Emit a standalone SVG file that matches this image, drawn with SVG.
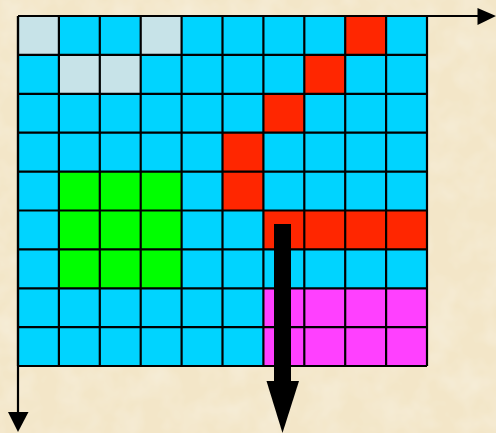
<svg xmlns="http://www.w3.org/2000/svg" width="496" height="433" viewBox="0 0 496 433">
<defs>
<style>
.c{fill:#00D4FF}.l{fill:#C7E3E8}.r{fill:#FF2600}.g{fill:#00FF00}.m{fill:#FF40FF}
.grid{stroke:#000;stroke-width:2.2;fill:none}
.ax{stroke:#000;stroke-width:2.2;fill:none}
</style>
<filter id="tex" x="0" y="0" width="100%" height="100%">
<feTurbulence type="fractalNoise" baseFrequency="0.035" numOctaves="3" seed="4" result="n"/>
<feColorMatrix in="n" type="matrix" values="0 0 0 0 0.93  0 0 0 0 0.87  0 0 0 0 0.73  0 0 0 -1.2 0.75" result="t"/>
<feComposite in="t" in2="SourceGraphic" operator="over"/>
</filter>
</defs>
<rect width="496" height="433" fill="#F3E6C8"/>
<rect width="496" height="433" fill="#F3E6C8" filter="url(#tex)"/>
<g id="grid">
<rect class="c" x="18" y="16" width="409" height="350"/>
<g id="light">
<rect class="l" x="18" y="16" width="40.9" height="38.9"/>
<rect class="l" x="140.7" y="16" width="40.9" height="38.9"/>
<rect class="l" x="58.9" y="54.9" width="81.8" height="38.9"/>
</g>
<g id="red">
<rect class="r" x="345.2" y="16" width="40.9" height="38.9"/>
<rect class="r" x="304.3" y="54.9" width="40.9" height="38.9"/>
<rect class="r" x="263.4" y="93.8" width="40.9" height="38.9"/>
<rect class="r" x="222.5" y="132.7" width="40.9" height="77.8"/>
<rect class="r" x="263.4" y="210.5" width="163.6" height="38.9"/>
</g>
<g id="green"><rect class="g" x="58.9" y="171.6" width="122.7" height="116.7"/></g>
<g id="magenta"><rect class="m" x="263.4" y="288.3" width="163.6" height="77.7"/></g>
<path class="grid" d="M18 16V366M58.9 16V366M99.8 16V366M140.7 16V366M181.6 16V366M222.5 16V366M263.4 16V366M304.3 16V366M345.2 16V366M386.1 16V366M427 16V366
M18 16H427M18 54.9H427M18 93.8H427M18 132.7H427M18 171.6H427M18 210.5H427M18 249.4H427M18 288.3H427M18 327.2H427M18 366H427"/>
</g>
<g id="connectors">
<path class="ax" d="M18 16H480"/>
<polygon points="477.5,8 496,16 477.5,25"/>
<path class="ax" d="M18 16V414"/>
<polygon points="8,412 28.5,412 18,432"/>
<rect x="274" y="224" width="17" height="158"/>
<polygon points="266.5,381 299,381 282.5,433"/>
</g>
</svg>
